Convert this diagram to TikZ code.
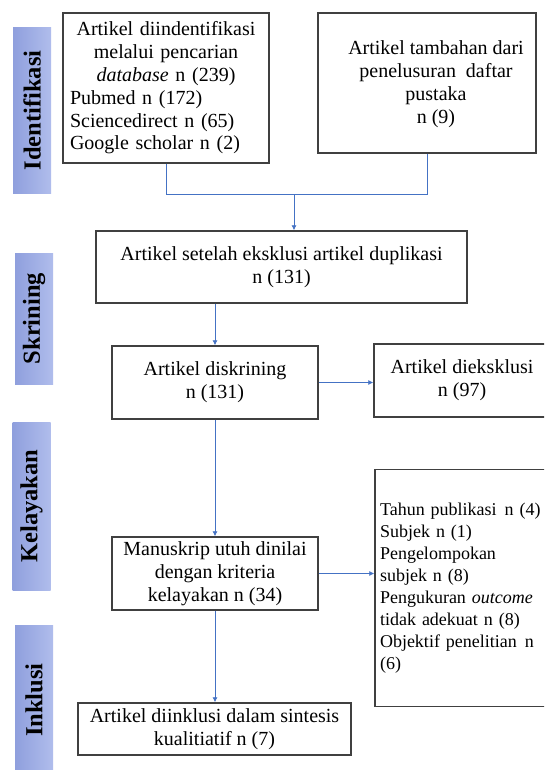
\documentclass[tikz,border=0pt]{standalone}
\usepackage{fontspec}
\setmainfont{Liberation Serif}
\usetikzlibrary{arrows.meta}
\definecolor{connc}{HTML}{4472C4}
\definecolor{boxline}{HTML}{404040}
\definecolor{barL}{HTML}{8F9FDD}
\definecolor{barR}{HTML}{B0BDEC}
\begin{document}
\begin{tikzpicture}[x=1pt,y=-1pt,
  box/.style={draw=boxline, line width=1.4pt, inner sep=0pt, align=center,
    font=\fontsize{20}{22.8}\selectfont},
  plain/.style={inner sep=0pt, align=center, font=\fontsize{20}{22.8}\selectfont},
  conn/.style={draw=connc, line width=0.8pt},
  arr/.style={conn, -{Latex[length=5pt,width=5pt]}},
  bar/.style={rotate=90, left color=barL, right color=barR, draw=none, inner sep=0pt,
    font=\fontsize{24.5}{28}\bfseries\selectfont, minimum height=38pt}
]
\useasboundingbox (0,0) rectangle (544,770);
\clip (0,0) rectangle (544,770);
\fill[white] (0,0) rectangle (544,770);

% side bars
\node[bar, minimum width=165pt] (l1) at (32,110.5) {Identifikasi};
\node[bar, minimum width=131pt] (l2) at (34,318.5) {Skrining};
\node[bar, minimum width=168pt] (l3) at (31.5,506) {Kelayakan};
\node[bar, minimum width=150pt] (l4) at (34,700) {Inklusi};

% boxes
\node[box, minimum width=206pt, minimum height=150pt, text width=192pt] (b1) at (166,88)
  {Artikel diindentifikasi\\ melalui pencarian\\ \textit{database} n (239)\\
   \makebox[192pt][l]{Pubmed n (172)}\\ \makebox[192pt][l]{Sciencedirect n (65)}\\
   \makebox[192pt][l]{Google scholar n (2)}};
\node[box, minimum width=218pt, minimum height=140pt] (b2) at (427,83) {};
\node[plain] (b2t) at (436,84)
  {Artikel tambahan dari\\ penelusuran\ \ daftar\\ pustaka\\ n (9)};
\node[box, minimum width=371pt, minimum height=72pt] (s) at (281.5,267)
  {Artikel setelah eksklusi artikel duplikasi\\ n (131)};
\node[box, minimum width=206pt, minimum height=73pt] (d) at (215,382.5)
  {Artikel diskrining\\ n (131)};
\node[box, minimum width=176pt, minimum height=73pt] (e1) at (462,380.5)
  {Artikel dieksklusi\\ n (97)};
\node[box, minimum width=206pt, minimum height=73pt] (m) at (215,573.5)
  {Manuskrip utuh dinilai\\ dengan\ kriteria\\ kelayakan n (34)};
\node[box, minimum width=176pt, minimum height=237pt, text width=166pt, align=left,
  font=\fontsize{18}{22}\selectfont] (e2) at (463,588)
  {Tahun publikasi\hspace{2pt} n (4)\\ Subjek n (1)\\ Pengelompokan\\ subjek n (8)\\
   Pengukuran \textit{outcome}\\ tidak adekuat n (8)\\ Objektif penelitian\hspace{2pt} n\\ (6)};
\node[box, minimum width=273pt, minimum height=52pt] (f) at (214.5,729)
  {Artikel diinklusi dalam sintesis\\ kualitiatif n (7)};

% connectors
\coordinate (jl) at (166,194);
\coordinate (jm) at (294,194);
\draw[conn] (b1.south) -- (jl) -| (b2.south);
\draw[arr] (jm) -- (jm |- s.north);
\draw[arr] (d.north |- s.south) -- (d.north);
\draw[arr] (d.east) -- (d.east -| e1.west);
\draw[arr] (d.south) -- (m.north);
\draw[arr] (m.east) -- (m.east -| e2.west);
\draw[arr] (m.south) -- (m.south |- f.north);
\end{tikzpicture}
\end{document}
